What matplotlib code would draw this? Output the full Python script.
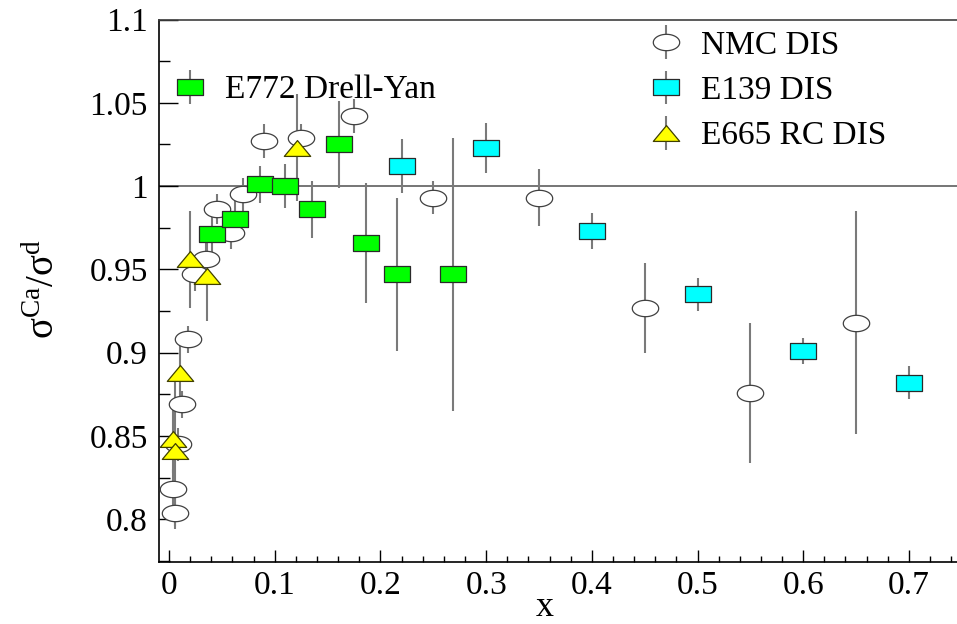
import numpy as np
import matplotlib
matplotlib.use("Agg")
import matplotlib.pyplot as plt
from matplotlib.path import Path
from matplotlib.ticker import MultipleLocator, FixedLocator

plt.rcParams['font.family'] = ['Liberation Serif', 'DejaVu Serif']
plt.rcParams['mathtext.fontset'] = 'custom'
plt.rcParams['mathtext.rm'] = 'Liberation Serif'
plt.rcParams['mathtext.it'] = 'Liberation Serif:italic'

# ---------------- data ----------------
nmc_x = [0.0055, 0.004, 0.0085, 0.0125, 0.0175, 0.025, 0.035, 0.045, 0.059, 0.07,
         0.09, 0.125, 0.175, 0.25, 0.35, 0.45, 0.55, 0.65]
nmc_y = [0.804, 0.818, 0.845, 0.869, 0.908, 0.947, 0.956, 0.986, 0.972, 0.995,
         1.027, 1.029, 1.042, 0.993, 0.993, 0.927, 0.876, 0.918]
nmc_e = [0.010, 0.012, 0.010, 0.008, 0.008, 0.010, 0.010, 0.009, 0.010, 0.010,
         0.010, 0.008, 0.010, 0.010, 0.017, 0.027, 0.042, 0.067]

e772_x = [0.041, 0.062, 0.086, 0.110, 0.135, 0.161, 0.186, 0.2155, 0.269]
e772_y = [0.971, 0.980, 1.001, 1.000, 0.986, 1.025, 0.966, 0.947, 0.947]
e772_e = [0.014, 0.013, 0.011, 0.013, 0.017, 0.026, 0.036, 0.046, 0.082]

e139_x = [0.22, 0.30, 0.40, 0.50, 0.60, 0.70]
e139_y = [1.012, 1.023, 0.973, 0.935, 0.901, 0.882]
e139_e = [0.016, 0.015, 0.011, 0.010, 0.008, 0.010]

e665_x = [0.004, 0.006, 0.0102, 0.0197, 0.036, 0.121]
e665_y = [0.848, 0.841, 0.888, 0.956, 0.946, 1.023]
e665_e = [0.020, 0.045, 0.018, 0.029, 0.027, 0.032]

x_ticks = [0, 0.1, 0.2, 0.3, 0.4, 0.5, 0.6, 0.7]
x_ticklabels = ['0', '0.1', '0.2', '0.3', '0.4', '0.5', '0.6', '0.7']
y_ticks = [0.8, 0.85, 0.9, 0.95, 1.0, 1.05, 1.1]
y_ticklabels = ['0.8', '0.85', '0.9', '0.95', '1', '1.05', '1.1']

# ---------------- markers ----------------
t = np.linspace(0, 2 * np.pi, 65)
ellipse = Path(np.column_stack([np.cos(t), 0.62 * np.sin(t)]), closed=True)
rect = Path([(-1, -0.63), (1, -0.63), (1, 0.63), (-1, 0.63), (-1, -0.63)], closed=True)
tri = Path([(-1, -0.6), (1, -0.6), (0, 0.6), (-1, -0.6)], closed=True)

W, H = 957, 624
fig = plt.figure(figsize=(W / 100, H / 100), dpi=100)
ax = fig.add_axes([159 / W, (H - 562) / H, 1 - 159 / W, (562 - 19.5) / H])

ax.set_xlim(-0.0095, 0.7455)
ax.set_ylim(0.7744, 1.1)

ax.axhline(1.0, color='#505050', lw=1.1, zorder=1)

ecol = '#7a7a7a'
ms = 19
common = dict(ls='none', ecolor=ecol, elinewidth=1.5, capsize=0, markersize=ms,
              markeredgewidth=0.9, zorder=3)

h_nmc = ax.errorbar(nmc_x, nmc_y, yerr=nmc_e, marker=ellipse, markerfacecolor='white',
                    markeredgecolor='#404040', **common)
h_e139 = ax.errorbar(e139_x, e139_y, yerr=e139_e, marker=rect, markerfacecolor='#00ffff',
                     markeredgecolor='#2a2a2a', **common)
h_e772 = ax.errorbar(e772_x, e772_y, yerr=e772_e, marker=rect, markerfacecolor='#00ff00',
                     markeredgecolor='#2a2a2a', **common)
h_e665 = ax.errorbar(e665_x, e665_y, yerr=e665_e, marker=tri, markerfacecolor='#ffff00',
                     markeredgecolor='#404000', **common)

# axes styling
ax.spines['right'].set_visible(False)
for s in ['left', 'bottom', 'top']:
    ax.spines[s].set_linewidth(1.2)
ax.spines['top'].set_color('#404040')

fs = 24
ax.xaxis.set_major_locator(FixedLocator(x_ticks))
ax.set_xticklabels(x_ticklabels)
ax.xaxis.set_minor_locator(MultipleLocator(0.02))
ax.yaxis.set_major_locator(FixedLocator(y_ticks))
ax.set_yticklabels(y_ticklabels)
ax.yaxis.set_minor_locator(MultipleLocator(0.025))

ax.tick_params(axis='x', which='both', direction='in', top=False, labelsize=fs, pad=6)
ax.tick_params(axis='x', which='major', length=8.5, width=1)
ax.tick_params(axis='x', which='minor', length=4.5, width=1)
ax.tick_params(axis='y', which='both', direction='in', right=False, labelsize=fs, pad=8)
ax.tick_params(axis='y', which='major', length=14, width=1)
ax.tick_params(axis='y', which='minor', length=8, width=1)

fig.text(44 / W, 1 - 289 / H, r'$\mathrm{\sigma}^{\rm Ca}/\mathrm{\sigma}^{\rm d}$', rotation=90,
         ha='center', va='center', fontsize=28)
fig.text(545 / W, (H - 616) / H, 'x', ha='center', va='baseline', fontsize=26)

leg_kw = dict(frameon=False, fontsize=fs, handlelength=1.0, handletextpad=0.55,
              labelspacing=0.45, borderpad=0, borderaxespad=0)
leg1 = ax.legend([h_e772], ['E772 Drell-Yan'], loc='upper left',
                 bbox_to_anchor=((173 - 159) / 798, 1 - (75 - 19.5) / 542.5), **leg_kw)
ax.add_artist(leg1)
ax.legend([h_nmc, h_e139, h_e665], ['NMC DIS', 'E139 DIS', 'E665 RC DIS'], loc='upper left',
          bbox_to_anchor=((649 - 159) / 798, 1 - (30 - 19.5) / 542.5), **leg_kw)

fig.savefig('out.png', dpi=100)
